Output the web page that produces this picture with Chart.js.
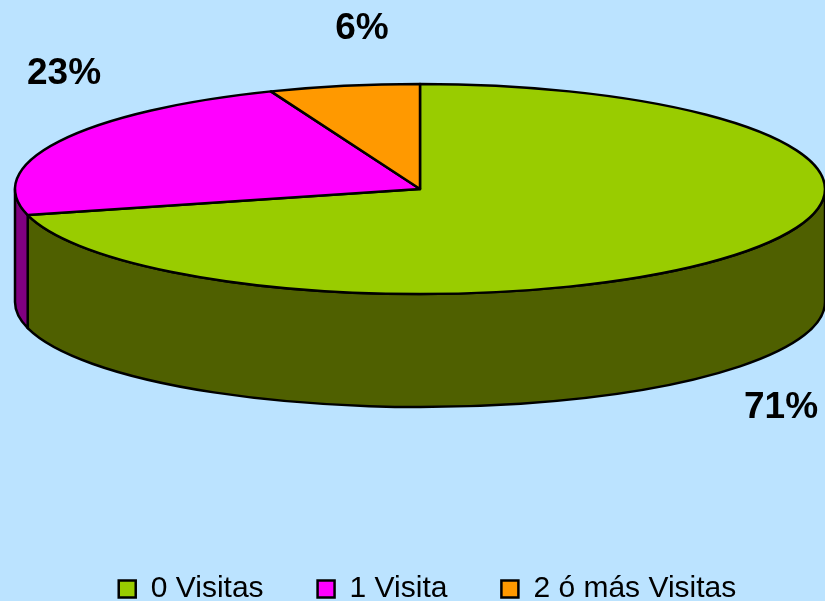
<!DOCTYPE html>
<html>
<head>
<meta charset="utf-8">
<style>
  html, body { margin: 0; padding: 0; background: #bbe3ff; overflow: hidden; }
  #wrap { position: relative; width: 825px; height: 601px; }
</style>
<script src="https://cdn.jsdelivr.net/npm/chart.js@4/dist/chart.umd.min.js"></script>
</head>
<body>
<div id="wrap"><canvas id="pie"></canvas></div>
<script>
const categories = ['0 Visitas', '1 Visita', '2 ó más Visitas'];
const values = [71, 23, 6];
const topColors = ['#99cc00', '#ff00ff', '#ff9900'];
const sideColors = ['#4f6000', '#800080', '#804c00'];

// flattened pie: ellipse size and wall height in px
const pie3d = { cx: 420, cy: 189, rx: 405, ry: 105, depth: 113 };
const labelSpots = [[781, 408], [64, 74], [362, 29]];

const flatPie = {
  id: 'flatPie',
  beforeDatasetDraw() {
    return false; // the arcs are redrawn flattened below
  },
  afterDatasetsDraw(chart) {
    const ctx = chart.ctx;
    const arcs = chart.getDatasetMeta(0).data;
    const { cx, cy, rx, ry, depth } = pie3d;
    ctx.save();
    ctx.lineWidth = 2.5;
    ctx.lineJoin = 'round';
    ctx.strokeStyle = '#000';

    // walls, only the part of a slice on the near side
    arcs.forEach(function (arc, i) {
      const a = arc.startAngle, b = arc.endAngle;
      const from = Math.max(a, 0), to = Math.min(b, Math.PI);
      if (to <= from) return;
      ctx.beginPath();
      ctx.ellipse(cx, cy, rx, ry, 0, from, to);
      ctx.ellipse(cx, cy + depth, rx, ry, 0, to, from, true);
      ctx.closePath();
      ctx.fillStyle = sideColors[i];
      ctx.fill();
      ctx.stroke();
    });

    // top face
    arcs.forEach(function (arc, i) {
      ctx.beginPath();
      ctx.moveTo(cx, cy);
      ctx.ellipse(cx, cy, rx, ry, 0, arc.startAngle, arc.endAngle);
      ctx.closePath();
      ctx.fillStyle = topColors[i];
      ctx.fill();
      ctx.stroke();
    });

    // percent labels
    ctx.fillStyle = '#000';
    ctx.font = 'bold 37px "Liberation Sans"';
    ctx.textAlign = 'center';
    ctx.textBaseline = 'middle';
    values.forEach(function (v, i) {
      ctx.fillText(v + '%', labelSpots[i][0], labelSpots[i][1]);
    });
    ctx.restore();
  }
};

new Chart(document.getElementById('pie').getContext('2d'), {
  type: 'pie',
  data: {
    labels: categories,
    datasets: [{
      data: values,
      backgroundColor: topColors,
      borderColor: '#000',
      borderWidth: 2.5
    }]
  },
  options: {
    responsive: true,
    maintainAspectRatio: false,
    animation: false,
    layout: { padding: { left: 30, bottom: -13 } },
    plugins: {
      tooltip: { enabled: false },
      legend: {
        position: 'bottom',
        labels: {
          color: '#000',
          font: { family: '"Liberation Sans"', size: 30 },
          boxWidth: 17,
          boxHeight: 17,
          padding: 54
        }
      }
    }
  },
  plugins: [flatPie]
});
</script>
</body>
</html>
